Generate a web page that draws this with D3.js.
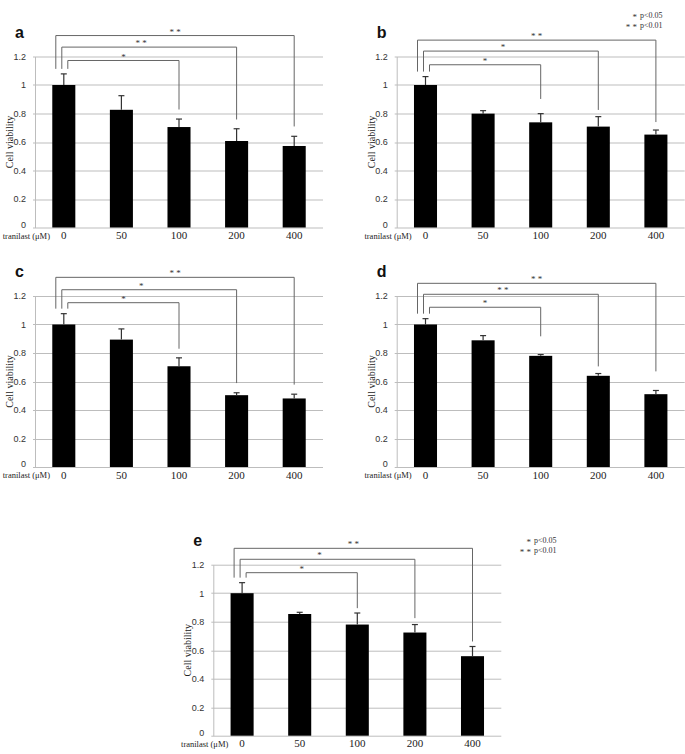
<!DOCTYPE html>
<html>
<head>
<meta charset="utf-8">
<script src="https://cdn.jsdelivr.net/npm/d3@7"></script>
<style>
  body { margin: 0; background: #fff; }
</style>
</head>
<body>
<script>
// doses on the x axis, y ticks
var doses = ["0", "50", "100", "200", "400"];
var yTicks = [0, 0.2, 0.4, 0.6, 0.8, 1, 1.2];
var panelNames = ["a", "b", "c", "d", "e"];

// mean cell viability per panel
var meanA = [1.0, 0.826, 0.705, 0.607, 0.572];
var meanB = [1.0, 0.799, 0.738, 0.708, 0.652];
var meanC = [1.0, 0.894, 0.707, 0.504, 0.481];
var meanD = [1.0, 0.889, 0.780, 0.640, 0.511];
var meanE = [1.0, 0.854, 0.780, 0.724, 0.558];

// error (upper) per panel
var errA = [0.078, 0.099, 0.056, 0.086, 0.068];
var errB = [0.059, 0.021, 0.061, 0.070, 0.032];
var errC = [0.076, 0.075, 0.059, 0.017, 0.030];
var errD = [0.041, 0.033, 0.009, 0.016, 0.026];
var errE = [0.074, 0.012, 0.081, 0.056, 0.068];

// significance brackets: 0 vs 100, 0 vs 200, 0 vs 400
var compared = ["100", "200", "400"];
var starsA = ["*", "**", "**"];
var starsB = ["*", "*", "**"];
var starsC = ["*", "*", "**"];
var starsD = ["*", "**", "**"];
var starsE = ["*", "*", "**"];

// bracket heights and right-leg ends, in viability units
var levelA = [1.172, 1.266, 1.347];
var levelB = [1.142, 1.238, 1.315];
var levelC = [1.153, 1.244, 1.331];
var levelD = [1.121, 1.212, 1.289];
var levelE = [1.144, 1.238, 1.315];
var legEndA = [0.828, 0.758, 0.709];
var legEndB = [0.902, 0.825, 0.740];
var legEndC = [0.830, 0.589, 0.578];
var legEndD = [0.917, 0.706, 0.671];
var legEndE = [0.895, 0.825, 0.661];

var legendLabels = ["p<0.05", "p<0.01"];
var legendStars = ["*", "**"];

var width = 685, height = 754;
var plotW = 288, plotH = 171;

var svg = d3.select("body").append("svg")
    .attr("width", width)
    .attr("height", height);

var layout = [
  {x: 35, y: 56.5},
  {x: 396.7, y: 56.5},
  {x: 35, y: 296},
  {x: 396.7, y: 296},
  {x: 213.3, y: 564.7}
];
var means = [meanA, meanB, meanC, meanD, meanE];
var errs = [errA, errB, errC, errD, errE];
var stars = [starsA, starsB, starsC, starsD, starsE];
var levels = [levelA, levelB, levelC, levelD, levelE];
var legEnds = [legEndA, legEndB, legEndC, legEndD, legEndE];

var serif = "'Liberation Serif', 'Times New Roman', serif";
var sans = "'Liberation Sans', Arial, sans-serif";

function starText(s) { return s.split("").join(" "); }

panelNames.forEach(function (name, p) {
    var pos = layout[p];
    var g = svg.append("g").attr("transform", "translate(" + pos.x + "," + pos.y + ")");

    var x = d3.scaleBand()
        .domain(doses)
        .range([0, plotW])
        .paddingInner(0.6)
        .paddingOuter(0.3);
    var y = d3.scaleLinear()
        .domain([0, 1.2])
        .range([plotH, 0]);

    // gridlines
    g.selectAll("line.grid")
        .data(yTicks)
        .enter().append("line")
        .attr("class", "grid")
        .attr("x1", -2).attr("x2", plotW)
        .attr("y1", function (d) { return Math.round(y(d)) + 0.5; })
        .attr("y2", function (d) { return Math.round(y(d)) + 0.5; })
        .attr("stroke", "#bdbdbd")
        .attr("stroke-width", 1);

    // y axis
    var yAxis = d3.axisLeft(y)
        .tickValues(yTicks)
        .tickSize(0)
        .tickPadding(9)
        .tickFormat(function (d) { return String(+d.toFixed(1)); });
    var ya = g.append("g").call(yAxis);
    ya.select(".domain").attr("stroke", "#bdbdbd");
    ya.selectAll("text")
        .attr("font-family", sans)
        .attr("font-size", 9)
        .attr("fill", "#333")
        .attr("dy", function (d) { return d === 0 ? "-0.05em" : "0.32em"; });

    // x labels
    var xAxis = d3.axisBottom(x).tickSize(0).tickPadding(4);
    var xa = g.append("g").attr("transform", "translate(0," + plotH + ")").call(xAxis);
    xa.select(".domain").remove();
    xa.selectAll("text")
        .attr("font-family", serif)
        .attr("font-size", 11)
        .attr("fill", "#222");

    g.append("text")
        .attr("x", 15)
        .attr("y", plotH + 11)
        .attr("text-anchor", "end")
        .attr("font-family", serif)
        .attr("font-size", 8.5)
        .attr("fill", "#222")
        .text("tranilast (\u03bcM)");

    // y title
    g.append("text")
        .attr("transform", "translate(-22," + (plotH / 2) + ") rotate(-90)")
        .attr("text-anchor", "middle")
        .attr("font-family", serif)
        .attr("font-size", 10)
        .attr("fill", "#222")
        .text("Cell viability");

    // panel letter
    g.append("text")
        .attr("x", -20)
        .attr("y", -19)
        .attr("font-family", sans)
        .attr("font-weight", "bold")
        .attr("font-size", 16)
        .attr("fill", "#111")
        .text(name);

    // bars
    var m = means[p], e = errs[p];
    g.selectAll("rect.bar")
        .data(m)
        .enter().append("rect")
        .attr("class", "bar")
        .attr("x", function (d, i) { return x(doses[i]); })
        .attr("width", x.bandwidth())
        .attr("y", function (d) { return y(d); })
        .attr("height", function (d) { return plotH - y(d); })
        .attr("fill", "#000");

    // error bars
    var eb = g.selectAll("g.err")
        .data(m)
        .enter().append("g")
        .attr("class", "err")
        .attr("stroke", "#333")
        .attr("stroke-width", 1.2);
    eb.append("line")
        .attr("x1", function (d, i) { return x(doses[i]) + x.bandwidth() / 2; })
        .attr("x2", function (d, i) { return x(doses[i]) + x.bandwidth() / 2; })
        .attr("y1", function (d) { return y(d); })
        .attr("y2", function (d, i) { return y(d + e[i]); });
    eb.append("line")
        .attr("x1", function (d, i) { return x(doses[i]) + x.bandwidth() / 2 - 3; })
        .attr("x2", function (d, i) { return x(doses[i]) + x.bandwidth() / 2 + 3; })
        .attr("y1", function (d, i) { return y(d + e[i]); })
        .attr("y2", function (d, i) { return y(d + e[i]); });

    // brackets
    var c0 = x(doses[0]) + x.bandwidth() / 2;
    var leftTop = y(m[0] + e[0]) - 5;
    var leftOffsets = [4, -2, -8];
    compared.forEach(function (dose, k) {
        var xl = c0 + leftOffsets[k];
        var xr = x(dose) + x.bandwidth() / 2;
        var yl = y(levels[p][k]);
        var yr = y(legEnds[p][k]);
        g.append("path")
            .attr("d", "M" + xl + "," + leftTop + "V" + yl + "H" + xr + "V" + yr)
            .attr("fill", "none")
            .attr("stroke", "#666")
            .attr("stroke-width", 1);
        g.append("text")
            .attr("x", (xl + xr) / 2 + (k === 1 ? -8 : 0))
            .attr("y", yl - 1)
            .attr("text-anchor", "middle")
            .attr("font-family", serif)
            .attr("font-size", 9)
            .attr("fill", "#333")
            .text(starText(stars[p][k]));
    });
});

// legends (top right of b, right of e)
var legendPos = [{x: 637, y: 18}, {x: 531, y: 543}];
legendPos.forEach(function (lp) {
    var lg = svg.append("g").attr("transform", "translate(" + lp.x + "," + lp.y + ")");
    legendLabels.forEach(function (lab, i) {
        lg.append("text")
            .attr("x", 0)
            .attr("y", i * 10 + 2)
            .attr("text-anchor", "end")
            .attr("font-family", serif)
            .attr("font-size", 9)
            .attr("fill", "#333")
            .text(starText(legendStars[i]));
        lg.append("text")
            .attr("x", 3)
            .attr("y", i * 10)
            .attr("font-family", serif)
            .attr("font-size", 8)
            .attr("fill", "#333")
            .text(lab);
    });
});
</script>
</body>
</html>
